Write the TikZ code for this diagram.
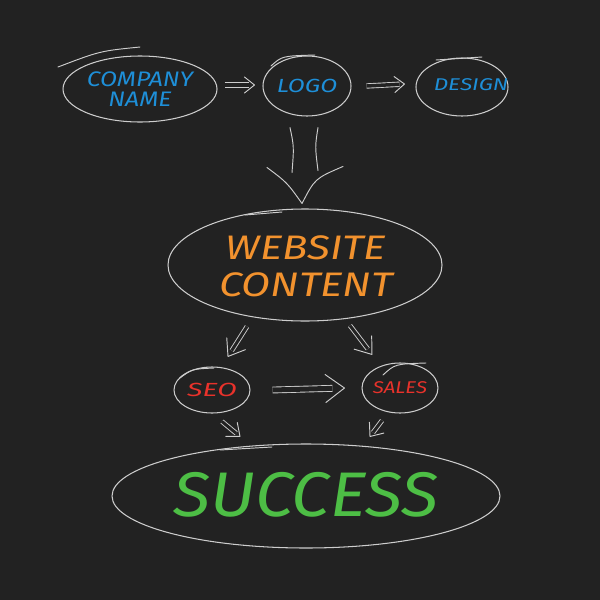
\documentclass[tikz,border=0pt]{standalone}
\usepackage{graphicx}
\usepackage{fontspec}
\setmainfont{Fira Sans}
\usetikzlibrary{shapes.geometric,arrows.meta,calc,decorations.markings}
\definecolor{bg}{HTML}{222222}
\definecolor{lc}{HTML}{CDCDCD}
\definecolor{tblue}{HTML}{1E8FD8}
\definecolor{torange}{HTML}{F2922E}
\definecolor{tred}{HTML}{E8322B}
\definecolor{tgreen}{HTML}{4DBE45}
\tikzset{
  oval/.style={ellipse, draw=lc, line width=1.05pt, inner sep=0pt},
  sk/.style={draw=lc, line width=0.95pt, line cap=round, line join=round},
  dline/.style={draw=lc, line width=0.9pt, double=bg, line cap=butt},
  lbl/.style={font=\itshape, align=center, inner sep=0pt}
}
% #1 from, #2 tip, #3 double distance, #4 shorten at tip, #5 arm back length, #6 arm spread
\newcommand\dblarrow[6]{%
  \draw[dline, double distance=#3, shorten >=#4] #1 -- #2;
  \path[decorate, decoration={markings, mark=at position 1 with {\draw[sk] (-#5,#6) -- (0pt,0pt) -- (-#5,-#6);}}] #1 -- #2;
}
\begin{document}
\begin{tikzpicture}[x=1pt,y=-1pt]
\fill[bg] (0,0) rectangle (600,600);
\useasboundingbox (0,0) rectangle (600,600);
% ellipses
\node[oval, minimum width=154pt, minimum height=66pt] (cn) at (140,89) {};
\node[oval, minimum width=88pt, minimum height=60pt] (logo) at (307,86) {};
\node[oval, minimum width=92pt, minimum height=58pt] (des) at (462,87) {};
\node[oval, minimum width=274pt, minimum height=112pt] (web) at (305,265) {};
\node[oval, minimum width=76pt, minimum height=46pt] (seo) at (212,390) {};
\node[oval, minimum width=76pt, minimum height=50pt] (sales) at (400,388) {};
\node[oval, minimum width=388pt, minimum height=104pt] (succ) at (306,496) {};
% sketchy extra strokes
\draw[sk] ($(cn.center)+(-82,-22)$) .. controls ($(cn.center)+(-40,-38)$) .. ($(cn.center)+(0,-42)$);
\draw[sk] ($(logo.center)+(-36,-20)$) .. controls ($(logo.center)+(-25,-30)$) .. ($(logo.center)+(8,-31)$);
\draw[sk] ($(des.center)+(-26,-27)$) -- ($(des.center)+(20,-30)$);
\draw[sk] ($(seo.center)+(-32,-12)$) .. controls ($(seo.center)+(-20,-21)$) .. ($(seo.center)+(2,-22)$);
\draw[sk] ($(sales.center)+(-17,-13)$) .. controls ($(sales.center)+(-5,-24)$) .. ($(sales.center)+(26,-25)$);
\draw[sk] ($(web.center)+(-60,-50)$) -- ($(web.center)+(-23,-53)$);
\draw[sk] ($(succ.center)+(-86,-46)$) -- ($(succ.center)+(-34,-49)$);
% texts
\node[lbl, text=tblue, font=\itshape\fontsize{21}{20}\selectfont] (tcn) at (cn.center) {\scalebox{1.18}[1]{COMPANY}\\\scalebox{1.18}[1]{NAME}};
\node[lbl, text=tblue, font=\itshape\fontsize{19}{20}\selectfont] (tlogo) at (logo.center) {\scalebox{1.3}[1]{LOGO}};
\node[lbl, text=tblue, font=\itshape\fontsize{17}{20}\selectfont] (tdes) at ($(des.center)+(9,-2)$) {\scalebox{1.33}[1]{DESIGN}};
\node[lbl, text=torange, font=\itshape\fontsize{34}{37}\selectfont] (tweb) at ($(web.center)+(1,1)$) {\scalebox{1.24}[1]{WEBSITE}\\\scalebox{1.24}[1]{CONTENT}};
\node[lbl, text=tred, font=\itshape\fontsize{19}{20}\selectfont] (tseo) at (seo.center) {\scalebox{1.5}[1]{SEO}};
\node[lbl, text=tred, font=\itshape\fontsize{17}{20}\selectfont] (tsales) at (sales.center) {\scalebox{1.2}[1]{SALES}};
\node[lbl, text=tgreen, font=\itshape\fontsize{63}{64}\selectfont] (tsucc) at ($(succ.center)+(0,-1)$) {\scalebox{1.09}[1]{SUCCESS}};
% arrows top row
\dblarrow{($(cn.east)+(7,-4)$)}{($(logo.west)+(-8,-1)$)}{3.5pt}{5pt}{10pt}{8pt}
\dblarrow{($(logo.east)+(15,0)$)}{($(des.west)+(-11,-3)$)}{3.5pt}{5pt}{10pt}{8pt}
% big arrow logo -> website
\draw[sk] ($(logo.south)+(-17,11)$) .. controls ($(logo.south)+(-13,30)$) .. ($(logo.south)+(-15,56)$);
\draw[sk] ($(logo.south)+(11,11)$) .. controls ($(logo.south)+(8,30)$) .. ($(logo.south)+(11,54)$);
\coordinate (apex) at ($(web.north)+(-3,-5)$);
\draw[sk] ($(web.north)+(-38,-41)$) .. controls ($(web.north)+(-18,-26)$) .. (apex)
          .. controls ($(web.north)+(10,-30)$) .. ($(web.north)+(38,-42)$);
% website -> seo / sales
\dblarrow{($(web.south)+(-58,5)$)}{($(seo.north)+(16,-10)$)}{3pt}{7pt}{15pt}{11pt}
\dblarrow{($(web.south)+(45,4)$)}{($(sales.north)+(-28,-8)$)}{3pt}{7pt}{15pt}{11pt}
% seo -> sales
\dblarrow{($(seo.east)+(22,0)$)}{($(sales.west)+(-17,0)$)}{5pt}{12pt}{19pt}{14pt}
% to success
\dblarrow{($(seo.south)+(10,8)$)}{($(succ.north)+(-66,-7)$)}{3pt}{5pt}{11pt}{9pt}
\dblarrow{($(sales.south)+(-18,7)$)}{($(succ.north)+(64,-7)$)}{3pt}{5pt}{11pt}{9pt}
\end{tikzpicture}
\end{document}
